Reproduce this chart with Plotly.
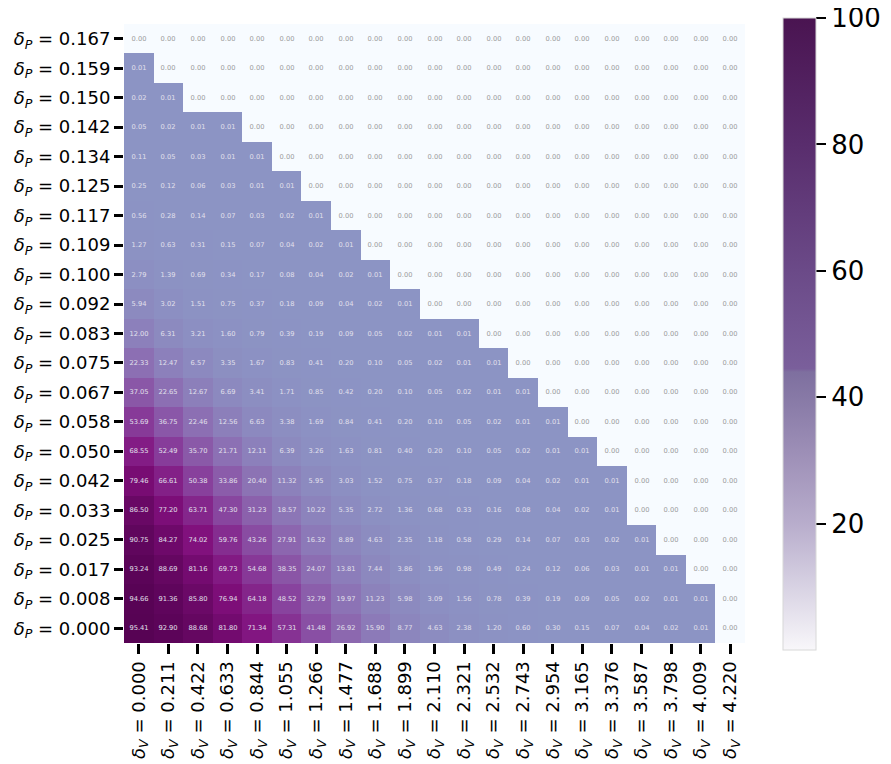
import plotly.graph_objects as go

dv_labels = ["0.000", "0.211", "0.422", "0.633", "0.844", "1.055", "1.266", "1.477",
             "1.688", "1.899", "2.110", "2.321", "2.532", "2.743", "2.954", "3.165",
             "3.376", "3.587", "3.798", "4.009", "4.220"]
# rows listed top to bottom as in the picture
dp_labels = ["0.167", "0.159", "0.150", "0.142", "0.134", "0.125", "0.117", "0.109",
             "0.100", "0.092", "0.083", "0.075", "0.067", "0.058", "0.050", "0.042",
             "0.033", "0.025", "0.017", "0.008", "0.000"]

r0167 = [0.00] * 21
r0159 = [0.01] + [0.00] * 20
r0150 = [0.02, 0.01] + [0.00] * 19
r0142 = [0.05, 0.02, 0.01, 0.01] + [0.00] * 17
r0134 = [0.11, 0.05, 0.03, 0.01, 0.01] + [0.00] * 16
r0125 = [0.25, 0.12, 0.06, 0.03, 0.01, 0.01] + [0.00] * 15
r0117 = [0.56, 0.28, 0.14, 0.07, 0.03, 0.02, 0.01] + [0.00] * 14
r0109 = [1.27, 0.63, 0.31, 0.15, 0.07, 0.04, 0.02, 0.01] + [0.00] * 13
r0100 = [2.79, 1.39, 0.69, 0.34, 0.17, 0.08, 0.04, 0.02, 0.01] + [0.00] * 12
r0092 = [5.94, 3.02, 1.51, 0.75, 0.37, 0.18, 0.09, 0.04, 0.02, 0.01] + [0.00] * 11
r0083 = [12.00, 6.31, 3.21, 1.60, 0.79, 0.39, 0.19, 0.09, 0.05, 0.02, 0.01, 0.01] + [0.00] * 9
r0075 = [22.33, 12.47, 6.57, 3.35, 1.67, 0.83, 0.41, 0.20, 0.10, 0.05, 0.02, 0.01, 0.01] + [0.00] * 8
r0067 = [37.05, 22.65, 12.67, 6.69, 3.41, 1.71, 0.85, 0.42, 0.20, 0.10, 0.05, 0.02, 0.01, 0.01] + [0.00] * 7
r0058 = [53.69, 36.75, 22.46, 12.56, 6.63, 3.38, 1.69, 0.84, 0.41, 0.20, 0.10, 0.05, 0.02, 0.01, 0.01] + [0.00] * 6
r0050 = [68.55, 52.49, 35.70, 21.71, 12.11, 6.39, 3.26, 1.63, 0.81, 0.40, 0.20, 0.10, 0.05, 0.02, 0.01, 0.01] + [0.00] * 5
r0042 = [79.46, 66.61, 50.38, 33.86, 20.40, 11.32, 5.95, 3.03, 1.52, 0.75, 0.37, 0.18, 0.09, 0.04, 0.02, 0.01, 0.01] + [0.00] * 4
r0033 = [86.50, 77.20, 63.71, 47.30, 31.23, 18.57, 10.22, 5.35, 2.72, 1.36, 0.68, 0.33, 0.16, 0.08, 0.04, 0.02, 0.01] + [0.00] * 4
r0025 = [90.75, 84.27, 74.02, 59.76, 43.26, 27.91, 16.32, 8.89, 4.63, 2.35, 1.18, 0.58, 0.29, 0.14, 0.07, 0.03, 0.02, 0.01] + [0.00] * 3
r0017 = [93.24, 88.69, 81.16, 69.73, 54.68, 38.35, 24.07, 13.81, 7.44, 3.86, 1.96, 0.98, 0.49, 0.24, 0.12, 0.06, 0.03, 0.01, 0.01] + [0.00] * 2
r0008 = [94.66, 91.36, 85.80, 76.94, 64.18, 48.52, 32.79, 19.97, 11.23, 5.98, 3.09, 1.56, 0.78, 0.39, 0.19, 0.09, 0.05, 0.02, 0.01, 0.01, 0.00]
r0000 = [95.41, 92.90, 88.68, 81.80, 71.34, 57.31, 41.48, 26.92, 15.90, 8.77, 4.63, 2.38, 1.20, 0.60, 0.30, 0.15, 0.07, 0.04, 0.02, 0.01, 0.00]

rows_top_to_bottom = [r0167, r0159, r0150, r0142, r0134, r0125, r0117, r0109, r0100, r0092,
                      r0083, r0075, r0067, r0058, r0050, r0042, r0033, r0025, r0017, r0008, r0000]

FONT = "DejaVu Sans"
xcat = ["<i>δ</i><sub><i>V</i></sub> = " + s for s in dv_labels]
ycat = ["<i>δ</i><sub><i>P</i></sub> = " + s for s in dp_labels][::-1]
Z = rows_top_to_bottom[::-1]

z_on = [[v if v >= 0.005 else None for v in row] for row in Z]
z_off = [[v if v < 0.005 else None for v in row] for row in Z]

bupu_upper = [[0.0, "#8c94c4"], [0.25, "#8c6bb1"], [0.5, "#88419d"],
              [0.75, "#810f7c"], [1.0, "#4d004b"]]

cbar_scale = [[0.0, "#f8f7fa"], [0.1, "#d8d2e3"], [0.2, "#b8adcc"], [0.3, "#a092b9"],
              [0.4, "#8779a6"], [0.44, "#7e6f9f"], [0.445, "#7a5f9b"], [0.6, "#6b4a88"],
              [0.8, "#592d6d"], [1.0, "#4a1451"]]

fig = go.Figure()
fig.add_trace(go.Heatmap(
    x=xcat, y=ycat, z=z_off,
    colorscale=[[0, "#f7fbff"], [1, "#f7fbff"]], showscale=False,
    texttemplate="%{z:.2f}", textfont=dict(size=6.7, color="#9a9a9a", family=FONT),
    hoverongaps=False,
))
fig.add_trace(go.Heatmap(
    x=xcat, y=ycat, z=z_on,
    colorscale=bupu_upper, zmin=0, zmax=100, showscale=False,
    texttemplate="%{z:.2f}", textfont=dict(size=6.7, color="#e2e0ec", family=FONT),
    hoverongaps=False,
))
fig.add_trace(go.Scatter(
    x=[xcat[0]], y=[ycat[0]], mode="markers",
    marker=dict(size=1, opacity=0, color=[Z[0][0]], cmin=0, cmax=100,
                colorscale=cbar_scale, showscale=True,
                colorbar=dict(
                    x=1.0612, xanchor="left", xref="paper", xpad=0, ypad=0,
                    y=0.4992, yanchor="middle", len=1.021, lenmode="fraction",
                    thickness=33, outlinewidth=1, outlinecolor="#d8d8d8",
                    tickvals=[20, 40, 60, 80, 100], ticks="outside", ticklen=10,
                    tickwidth=2, tickcolor="black", ticklabeloverflow="allow",
                    tickfont=dict(size=26, family=FONT, color="black"),
                )),
    showlegend=False, hoverinfo="skip",
))

n_cols = len(dv_labels)
n_rows = len(dp_labels)
fig.update_xaxes(type="category", range=[-0.5, n_cols - 0.5], tickangle=-90,
                 ticks="outside", ticklen=10, tickwidth=2.5,
                 tickcolor="black", showgrid=False, zeroline=False, showline=False,
                 automargin=False,
                 tickfont=dict(size=18, family=FONT, color="black"))
fig.update_yaxes(type="category", range=[-0.5, n_rows - 0.5],
                 ticks="outside", ticklen=9, tickwidth=2.5,
                 tickcolor="black", showgrid=False, zeroline=False, showline=False,
                 automargin=False,
                 tickfont=dict(size=18, family=FONT, color="black"))

fig.update_layout(
    width=891, height=764,
    margin=dict(l=116, r=154, t=16, b=129, autoexpand=False),
    plot_bgcolor="white", paper_bgcolor="white",
    font=dict(family=FONT),
)

fig.write_html("out.html")
